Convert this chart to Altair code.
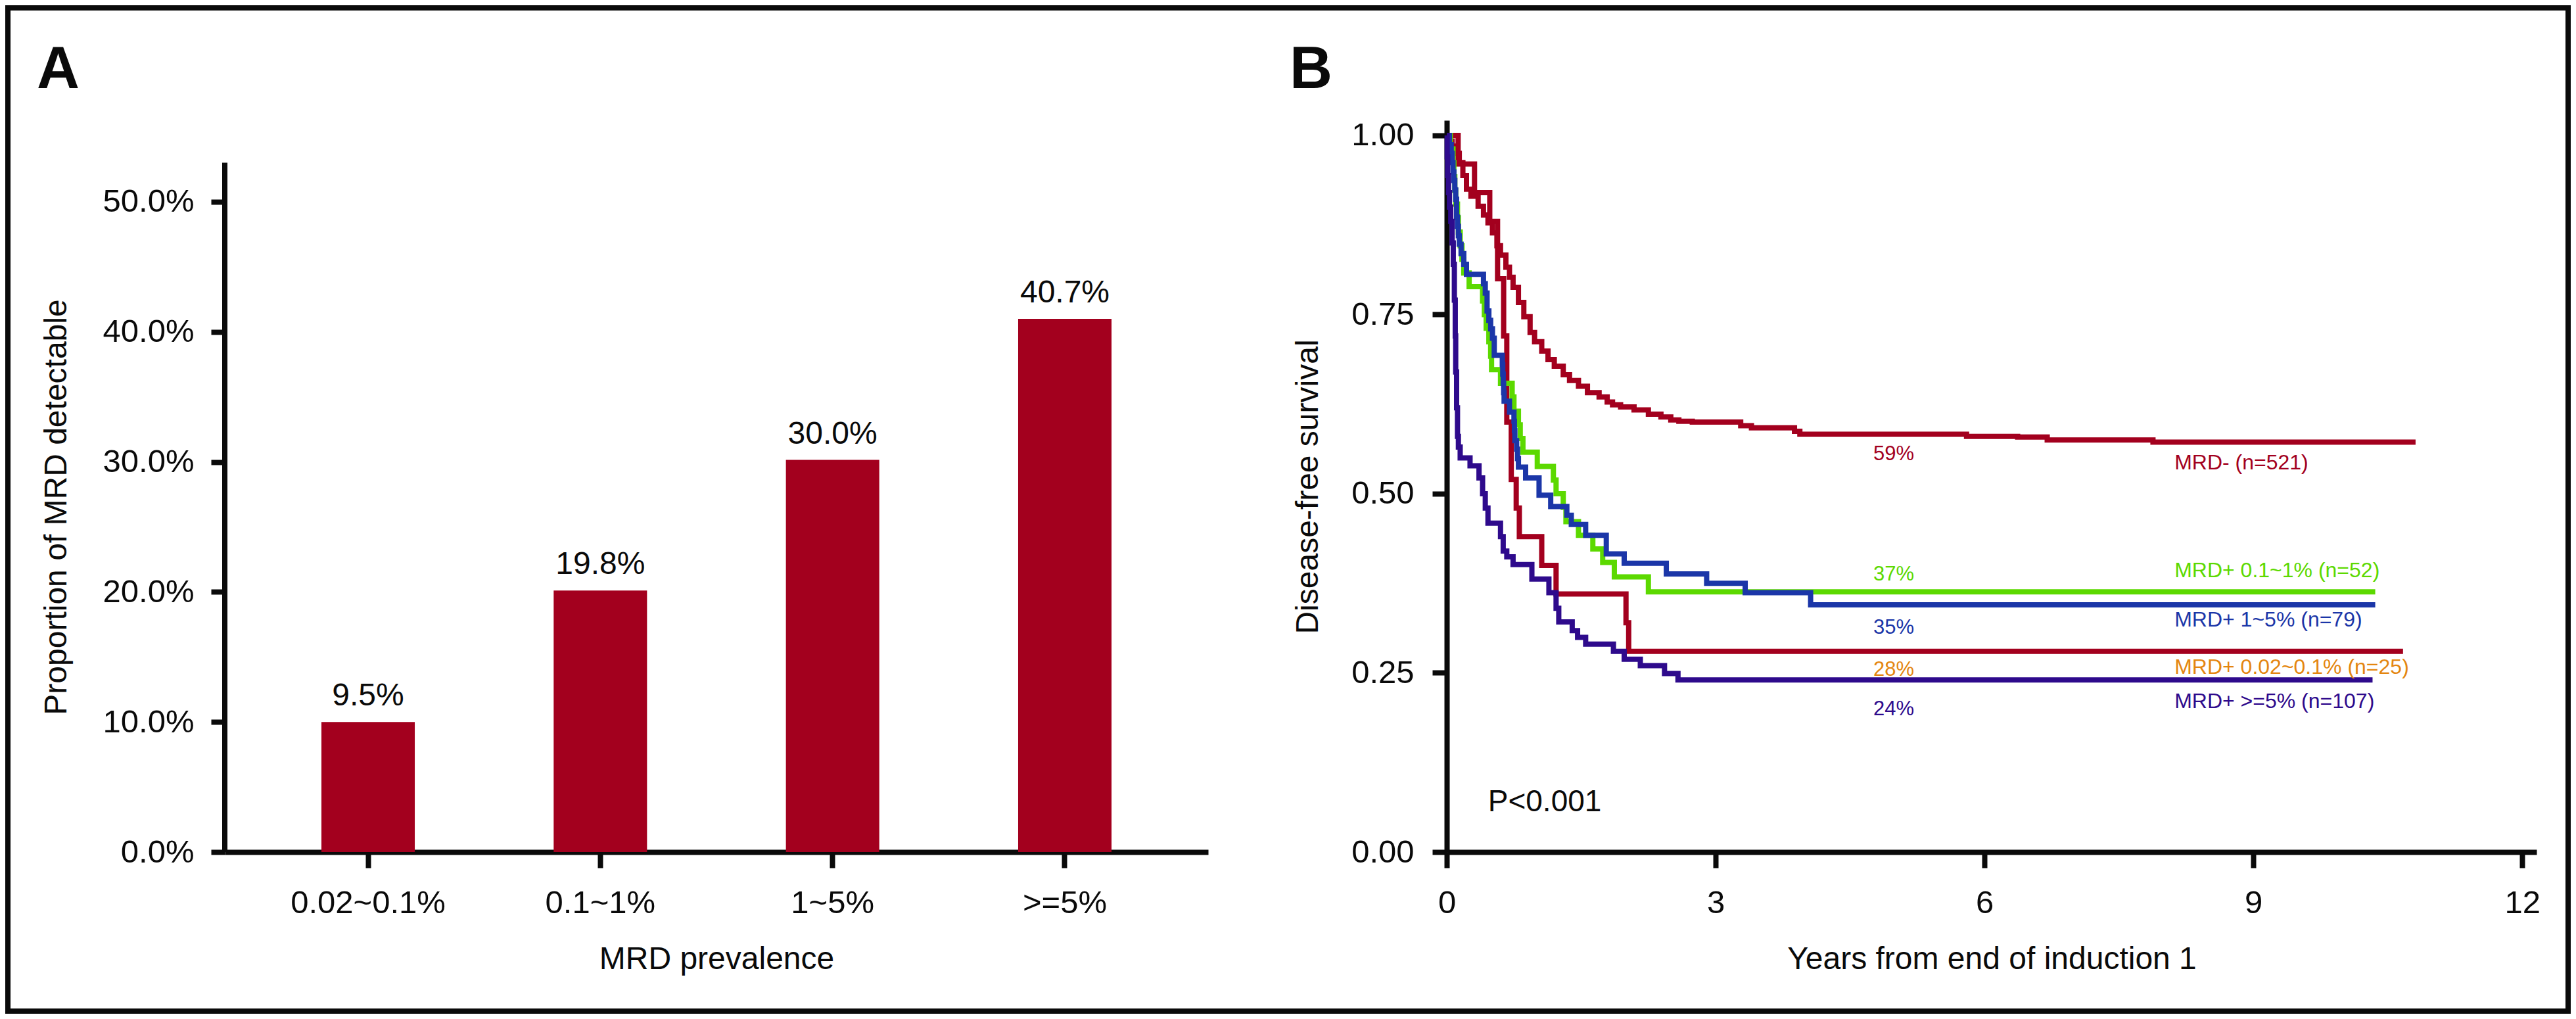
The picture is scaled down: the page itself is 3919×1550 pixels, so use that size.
import altair as alt
import pandas as pd

FONT = "Liberation Sans"
TITLE_FONT = "Liberation Sans Narrow, Liberation Sans"
BLACK = "#0a0a0a"
RED = "#a3001e"
GREEN = "#5cd900"
BLUE = "#1b36a8"
PURPLE = "#2e0a8c"
ORANGE = "#e4860f"

# ---------------- Panel A data ----------------
categories = ["0.02~0.1%", "0.1~1%", "1~5%", ">=5%"]
bar_heights = [0.100, 0.201, 0.3015, 0.410]
bar_labels = ["9.5%", "19.8%", "30.0%", "40.7%"]
a_ticks = [0.0, 0.1, 0.2, 0.3, 0.4, 0.5]
a_axis_top = 0.53

# ---------------- Panel B data ----------------
neg_t = [0, 0.03, 0.06, 0.10, 0.14, 0.18, 0.22, 0.27, 0.35, 0.41, 0.46, 0.51, 0.56, 0.60, 0.66,
         0.70, 0.74, 0.80, 0.86, 0.93, 0.98, 1.06, 1.13, 1.20, 1.30, 1.37, 1.47, 1.57, 1.70, 1.79,
         1.85, 1.94, 2.09, 2.25, 2.39, 2.50, 2.59, 2.74, 3.28, 3.40, 3.88, 3.94, 5.80, 6.37, 6.70,
         7.88, 10.81]
neg_s = [1.000, 0.992, 0.985, 0.975, 0.962, 0.944, 0.925, 0.915, 0.901, 0.889, 0.878, 0.864, 0.846,
         0.833, 0.816, 0.802, 0.788, 0.767, 0.747, 0.725, 0.712, 0.699, 0.687, 0.678, 0.666, 0.658,
         0.650, 0.641, 0.635, 0.628, 0.624, 0.621, 0.617, 0.611, 0.607, 0.603, 0.601, 0.600, 0.595,
         0.592, 0.587, 0.583, 0.580, 0.579, 0.575, 0.572, 0.572]

low_t = [0, 0.127, 0.31, 0.48, 0.567, 0.635, 0.67, 0.72, 0.775, 0.81, 1.06, 1.22, 2.00, 2.03, 10.67]
low_s = [1.0, 0.96, 0.92, 0.88, 0.80, 0.72, 0.60, 0.52, 0.48, 0.44, 0.40, 0.36, 0.32, 0.28, 0.28]

mid_t = [0, 0.04, 0.07, 0.08, 0.09, 0.10, 0.12, 0.13, 0.15, 0.17, 0.19, 0.25, 0.40, 0.42, 0.44,
         0.47, 0.49, 0.50, 0.60, 0.73, 0.75, 0.80, 0.82, 0.85, 1.01, 1.19, 1.22, 1.30, 1.33, 1.47,
         1.63, 1.74, 1.87, 2.25, 10.36]
mid_s = [1.0, 0.981, 0.962, 0.942, 0.923, 0.904, 0.885, 0.865, 0.846, 0.827, 0.808, 0.789, 0.769,
         0.750, 0.731, 0.712, 0.692, 0.673, 0.654, 0.635, 0.615, 0.596, 0.577, 0.558, 0.538, 0.519,
         0.500, 0.481, 0.461, 0.442, 0.423, 0.404, 0.384, 0.363, 0.363]

high_t = [0, 0.03, 0.05, 0.06, 0.07, 0.08, 0.09, 0.10, 0.11, 0.12, 0.13, 0.14, 0.16, 0.19, 0.22,
          0.41, 0.43, 0.45, 0.47, 0.49, 0.51, 0.53, 0.62, 0.625, 0.63, 0.635, 0.64, 0.70, 0.75,
          0.755, 0.76, 0.78, 0.79, 0.80, 0.88, 1.03, 1.16, 1.34, 1.39, 1.55, 1.78, 1.98, 2.45,
          2.90, 3.33, 4.06, 10.36]
high_s = [1.0, 0.987, 0.975, 0.962, 0.949, 0.937, 0.924, 0.911, 0.886, 0.873, 0.86, 0.848, 0.835,
          0.82, 0.806, 0.793, 0.78, 0.755, 0.742, 0.73, 0.717, 0.693, 0.68, 0.667, 0.654, 0.641,
          0.629, 0.614, 0.601, 0.588, 0.574, 0.562, 0.549, 0.537, 0.522, 0.498, 0.482, 0.470,
          0.457, 0.442, 0.416, 0.403, 0.388, 0.375, 0.362, 0.345, 0.345]

top_t = [0, 0.005, 0.01, 0.02, 0.03, 0.045, 0.06, 0.073, 0.085, 0.095, 0.10, 0.11, 0.12, 0.13,
         0.15, 0.26, 0.36, 0.40, 0.43, 0.46, 0.60, 0.63, 0.67, 0.74, 0.95, 1.14, 1.22, 1.25, 1.40,
         1.46, 1.55, 1.86, 1.98, 2.16, 2.43, 2.58, 10.33]
top_s = [1.0, 0.97, 0.944, 0.92, 0.90, 0.88, 0.85, 0.82, 0.77, 0.72, 0.67, 0.62, 0.58, 0.565,
         0.55, 0.539, 0.522, 0.50, 0.48, 0.459, 0.44, 0.42, 0.412, 0.401, 0.381, 0.362, 0.34,
         0.321, 0.309, 0.2995, 0.29, 0.28, 0.269, 0.26, 0.249, 0.24, 0.24]

b_xticks = [0, 3, 6, 9, 12]
b_yticks = [0.0, 0.25, 0.5, 0.75, 1.0]

pct_text = ["59%", "37%", "35%", "28%", "24%"]
pct_t = [4.76, 4.76, 4.76, 4.76, 4.76]
pct_s = [0.547, 0.379, 0.305, 0.246, 0.191]

grp_text = ["MRD- (n=521)", "MRD+ 0.1~1% (n=52)", "MRD+ 1~5% (n=79)",
            "MRD+ 0.02~0.1% (n=25)", "MRD+ >=5% (n=107)"]
grp_t = [8.12, 8.12, 8.12, 8.12, 8.12]
grp_s = [0.534, 0.3835, 0.315, 0.249, 0.201]
label_colors = [RED, GREEN, BLUE, ORANGE, PURPLE]

# ---------------- shared axis styling ----------------
ax = dict(domainColor=BLACK, domainWidth=8, tickColor=BLACK, tickWidth=8,
          labelFont=FONT, labelFontSize=49, labelColor=BLACK, labelLimit=1000,
          labelOverlap=False, titleFont=TITLE_FONT, titleFontSize=48, titleColor=BLACK,
          titleFontWeight="normal", titleLimit=3000, grid=False, titleBaseline="alphabetic")

one = pd.DataFrame({"k": [0]})

# ---------------- Panel A ----------------
dfA = pd.DataFrame({"cat": categories, "h": bar_heights, "lab": bar_labels})
xA = alt.X("cat:N", sort=categories,
           scale=alt.Scale(paddingInner=0.598, paddingOuter=0.416),
           axis=alt.Axis(title="MRD prevalence", labelAngle=0, tickSize=24, labelPadding=29,
                         titleY=177, **ax))
yscaleA = alt.Scale(domain=[0, 0.5626], nice=False)
yaxA = alt.Axis(title="Proportion of MRD detectable", values=a_ticks, format=".1%",
                domain=False, tickSize=21, labelPadding=26, titleX=-242, titleY=588,
                titleAngle=270, **ax)
yA = alt.Y("h:Q", scale=yscaleA, axis=yaxA)

frame = alt.Chart(one).mark_rect(filled=False, stroke=BLACK, strokeWidth=8).encode(
    x=alt.value(-330), x2=alt.value(3565), y=alt.value(-171), y2=alt.value(1355))
bars = alt.Chart(dfA).mark_bar(color=RED).encode(x=xA, y=yA)
bar_txt = alt.Chart(dfA).mark_text(dy=-25, baseline="alphabetic", font=FONT, fontSize=48,
                                   color=BLACK).encode(x=xA, y=yA, text="lab:N")
a_line = alt.Chart(pd.DataFrame({"h": [0.0], "h2": [a_axis_top]})).mark_rule(
    strokeWidth=8, color=BLACK).encode(x=alt.value(0), y=yA, y2="h2:Q")
tagA = alt.Chart(one).mark_text(text="A", align="left", baseline="alphabetic", font=FONT,
                                fontWeight="bold", fontSize=90, color=BLACK).encode(
    x=alt.value(-286), y=alt.value(-49))

panelA = alt.layer(frame, bars, bar_txt, a_line, tagA).properties(width=1496, height=1113)

# ---------------- Panel B ----------------
xB = alt.X("t:Q", scale=alt.Scale(domain=[0, 12.16], nice=False, zero=False),
           axis=alt.Axis(title="Years from end of induction 1", values=b_xticks, format="d",
                         tickSize=24, labelPadding=29, labelFlush=False, titleY=177, **ax))
yB = alt.Y("s:Q", scale=alt.Scale(domain=[0, 1.021], nice=False),
           axis=alt.Axis(title="Disease-free survival", values=b_yticks, format=".2f",
                         tickSize=22, labelPadding=28, titleX=-197, titleY=557,
                         titleAngle=270, **ax))

series = [(neg_t, neg_s, RED), (low_t, low_s, RED), (mid_t, mid_s, GREEN),
          (high_t, high_s, BLUE), (top_t, top_s, PURPLE)]
curves = []
for ts, ss, col in series:
    d = pd.DataFrame({"t": ts, "s": ss})
    curves.append(alt.Chart(d).mark_line(interpolate="step-after", color=col, strokeWidth=8,
                                         strokeJoin="miter").encode(x=xB, y=yB))

dpct = pd.DataFrame({"t": pct_t, "s": pct_s, "txt": pct_text, "c": label_colors})
pct = alt.Chart(dpct).mark_text(align="left", baseline="alphabetic", font=FONT,
                                fontSize=31).encode(
    x=xB, y=yB, text="txt:N", color=alt.Color("c:N", scale=None))
dgrp = pd.DataFrame({"t": grp_t, "s": grp_s, "txt": grp_text, "c": label_colors})
grp = alt.Chart(dgrp).mark_text(align="left", baseline="alphabetic", font=FONT,
                                fontSize=32).encode(
    x=xB, y=yB, text="txt:N", color=alt.Color("c:N", scale=None))
pval = alt.Chart(pd.DataFrame({"t": [0.46], "s": [0.057], "txt": ["P<0.001"]})).mark_text(
    align="left", baseline="alphabetic", font=FONT, fontSize=46, color=BLACK).encode(
    x=xB, y=yB, text="txt:N")
tagB = alt.Chart(one).mark_text(text="B", align="left", baseline="alphabetic", font=FONT,
                                fontWeight="bold", fontSize=90, color=BLACK).encode(
    x=alt.value(-239), y=alt.value(-49))

panelB = alt.layer(*curves, pct, grp, pval, tagB).properties(width=1658, height=1113)

chart = alt.hconcat(panelA, panelB, spacing=363, bounds="flush").properties(
    padding=0, background="white").configure_view(stroke=None)

chart.save("out.html", embed_options={"renderer": "svg", "actions": False})
